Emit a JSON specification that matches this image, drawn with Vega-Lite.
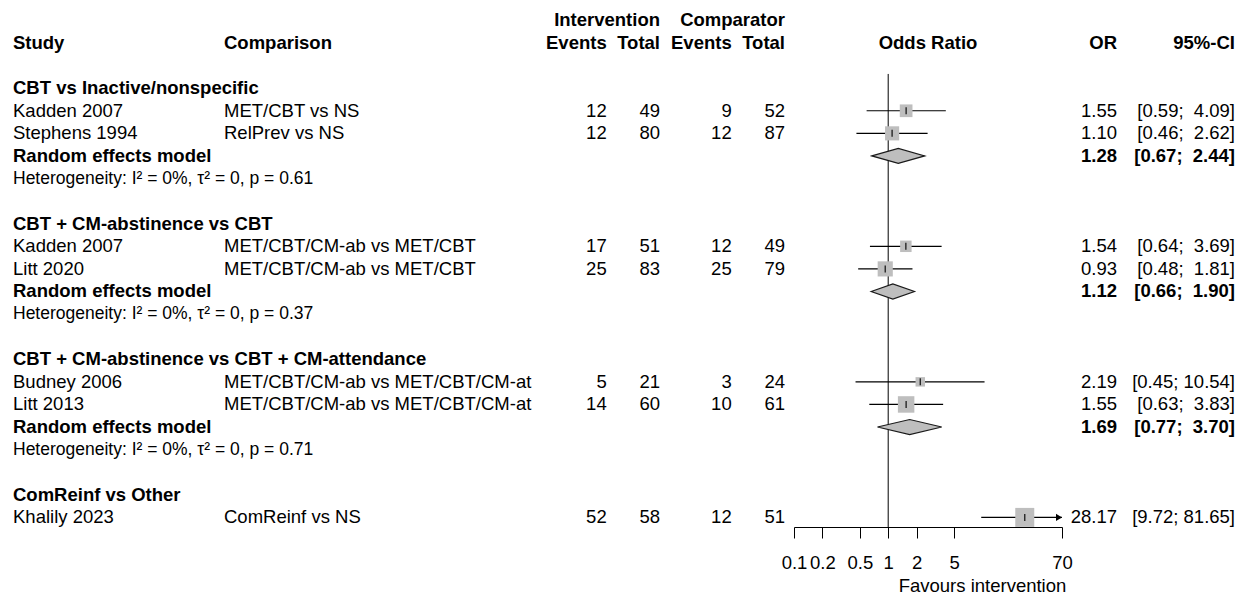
{
  "$schema": "https://vega.github.io/schema/vega-lite/v6.json",
  "width": 1245,
  "height": 527,
  "autosize": "none",
  "padding": {"left": 0, "top": 0, "right": 0, "bottom": 67},
  "background": "white",
  "config": {"view": {"stroke": null}, "font": "Liberation Sans", "text": {"font": "Liberation Sans"}},
  "datasets": {
    "cells": [
      {"r": 0, "c": 3, "t": "Intervention", "k": "head"},
      {"r": 0, "c": 5, "t": "Comparator", "k": "head"},
      {"r": 1, "c": 0, "t": "Study", "k": "head"},
      {"r": 1, "c": 1, "t": "Comparison", "k": "head"},
      {"r": 1, "c": 2, "t": "Events", "k": "head"},
      {"r": 1, "c": 3, "t": "Total", "k": "head"},
      {"r": 1, "c": 4, "t": "Events", "k": "head"},
      {"r": 1, "c": 5, "t": "Total", "k": "head"},
      {"r": 1, "c": 6, "t": "Odds Ratio", "k": "head"},
      {"r": 1, "c": 7, "t": "OR", "k": "head"},
      {"r": 1, "c": 8, "t": "95%-CI", "k": "head"},
      {"r": 3, "c": 0, "t": "CBT vs Inactive/nonspecific", "k": "group"},
      {"r": 4, "c": 0, "t": "Kadden 2007", "k": "study"},
      {"r": 4, "c": 1, "t": "MET/CBT vs NS", "k": "study"},
      {"r": 4, "c": 2, "t": "12", "k": "study"},
      {"r": 4, "c": 3, "t": "49", "k": "study"},
      {"r": 4, "c": 4, "t": "9", "k": "study"},
      {"r": 4, "c": 5, "t": "52", "k": "study"},
      {"r": 4, "c": 7, "t": "1.55", "k": "study"},
      {"r": 4, "c": 8, "t": "[0.59; \u00a04.09]", "k": "study"},
      {"r": 5, "c": 0, "t": "Stephens 1994", "k": "study"},
      {"r": 5, "c": 1, "t": "RelPrev vs NS", "k": "study"},
      {"r": 5, "c": 2, "t": "12", "k": "study"},
      {"r": 5, "c": 3, "t": "80", "k": "study"},
      {"r": 5, "c": 4, "t": "12", "k": "study"},
      {"r": 5, "c": 5, "t": "87", "k": "study"},
      {"r": 5, "c": 7, "t": "1.10", "k": "study"},
      {"r": 5, "c": 8, "t": "[0.46; \u00a02.62]", "k": "study"},
      {"r": 6, "c": 0, "t": "Random effects model", "k": "pooled"},
      {"r": 6, "c": 7, "t": "1.28", "k": "pooled"},
      {"r": 6, "c": 8, "t": "[0.67; \u00a02.44]", "k": "pooled"},
      {"r": 7, "c": 0, "t": "Heterogeneity: I² = 0%, τ² = 0, p = 0.61", "k": "het"},
      {"r": 9, "c": 0, "t": "CBT + CM-abstinence vs CBT", "k": "group"},
      {"r": 10, "c": 0, "t": "Kadden 2007", "k": "study"},
      {"r": 10, "c": 1, "t": "MET/CBT/CM-ab vs MET/CBT", "k": "study"},
      {"r": 10, "c": 2, "t": "17", "k": "study"},
      {"r": 10, "c": 3, "t": "51", "k": "study"},
      {"r": 10, "c": 4, "t": "12", "k": "study"},
      {"r": 10, "c": 5, "t": "49", "k": "study"},
      {"r": 10, "c": 7, "t": "1.54", "k": "study"},
      {"r": 10, "c": 8, "t": "[0.64; \u00a03.69]", "k": "study"},
      {"r": 11, "c": 0, "t": "Litt 2020", "k": "study"},
      {"r": 11, "c": 1, "t": "MET/CBT/CM-ab vs MET/CBT", "k": "study"},
      {"r": 11, "c": 2, "t": "25", "k": "study"},
      {"r": 11, "c": 3, "t": "83", "k": "study"},
      {"r": 11, "c": 4, "t": "25", "k": "study"},
      {"r": 11, "c": 5, "t": "79", "k": "study"},
      {"r": 11, "c": 7, "t": "0.93", "k": "study"},
      {"r": 11, "c": 8, "t": "[0.48; \u00a01.81]", "k": "study"},
      {"r": 12, "c": 0, "t": "Random effects model", "k": "pooled"},
      {"r": 12, "c": 7, "t": "1.12", "k": "pooled"},
      {"r": 12, "c": 8, "t": "[0.66; \u00a01.90]", "k": "pooled"},
      {"r": 13, "c": 0, "t": "Heterogeneity: I² = 0%, τ² = 0, p = 0.37", "k": "het"},
      {"r": 15, "c": 0, "t": "CBT + CM-abstinence vs CBT + CM-attendance", "k": "group"},
      {"r": 16, "c": 0, "t": "Budney 2006", "k": "study"},
      {"r": 16, "c": 1, "t": "MET/CBT/CM-ab vs MET/CBT/CM-at", "k": "study"},
      {"r": 16, "c": 2, "t": "5", "k": "study"},
      {"r": 16, "c": 3, "t": "21", "k": "study"},
      {"r": 16, "c": 4, "t": "3", "k": "study"},
      {"r": 16, "c": 5, "t": "24", "k": "study"},
      {"r": 16, "c": 7, "t": "2.19", "k": "study"},
      {"r": 16, "c": 8, "t": "[0.45; 10.54]", "k": "study"},
      {"r": 17, "c": 0, "t": "Litt 2013", "k": "study"},
      {"r": 17, "c": 1, "t": "MET/CBT/CM-ab vs MET/CBT/CM-at", "k": "study"},
      {"r": 17, "c": 2, "t": "14", "k": "study"},
      {"r": 17, "c": 3, "t": "60", "k": "study"},
      {"r": 17, "c": 4, "t": "10", "k": "study"},
      {"r": 17, "c": 5, "t": "61", "k": "study"},
      {"r": 17, "c": 7, "t": "1.55", "k": "study"},
      {"r": 17, "c": 8, "t": "[0.63; \u00a03.83]", "k": "study"},
      {"r": 18, "c": 0, "t": "Random effects model", "k": "pooled"},
      {"r": 18, "c": 7, "t": "1.69", "k": "pooled"},
      {"r": 18, "c": 8, "t": "[0.77; \u00a03.70]", "k": "pooled"},
      {"r": 19, "c": 0, "t": "Heterogeneity: I² = 0%, τ² = 0, p = 0.71", "k": "het"},
      {"r": 21, "c": 0, "t": "ComReinf vs Other", "k": "group"},
      {"r": 22, "c": 0, "t": "Khalily 2023", "k": "study"},
      {"r": 22, "c": 1, "t": "ComReinf vs NS", "k": "study"},
      {"r": 22, "c": 2, "t": "52", "k": "study"},
      {"r": 22, "c": 3, "t": "58", "k": "study"},
      {"r": 22, "c": 4, "t": "12", "k": "study"},
      {"r": 22, "c": 5, "t": "51", "k": "study"},
      {"r": 22, "c": 7, "t": "28.17", "k": "study"},
      {"r": 22, "c": 8, "t": "[9.72; 81.65]", "k": "study"}
    ],
    "studies": [
      {"r": 4, "or": 1.55, "lo": 0.59, "hi": 4.09, "wt": 44.7},
      {"r": 5, "or": 1.10, "lo": 0.46, "hi": 2.62, "wt": 55.3},
      {"r": 10, "or": 1.54, "lo": 0.64, "hi": 3.69, "wt": 36.4},
      {"r": 11, "or": 0.93, "lo": 0.48, "hi": 1.81, "wt": 63.6},
      {"r": 16, "or": 2.19, "lo": 0.45, "hi": 10.54, "wt": 24.7},
      {"r": 17, "or": 1.55, "lo": 0.63, "hi": 3.83, "wt": 75.3},
      {"r": 22, "or": 28.17, "lo": 9.72, "hi": 81.65, "wt": 100}
    ],
    "pooled": [
      {"r": 6, "or": 1.28, "lo": 0.67, "hi": 2.44},
      {"r": 12, "or": 1.12, "lo": 0.66, "hi": 1.90},
      {"r": 18, "or": 1.69, "lo": 0.77, "hi": 3.70}
    ]
  },
  "resolve": {"scale": {"x": "independent"}, "axis": {"x": "independent"}},
  "layer": [
    {
      "data": {"name": "studies"},
      "mark": {"type": "rule", "color": "black", "strokeWidth": 1.2},
      "encoding": {
        "x": {"field": "lo", "type": "quantitative",
              "scale": {"type": "log", "domain": [0.1, 70], "range": [794, 1062], "clamp": true, "nice": false},
              "axis": {"orient": "bottom", "values": [0.1, 0.2, 0.5, 1, 2, 5, 70], "format": "~g",
                       "labelOverlap": false, "labelFlush": false, "grid": false,
                       "domainColor": "black", "domainWidth": 1, "tickColor": "black", "tickWidth": 1, "tickSize": 11,
                       "labelFont": "Liberation Sans", "labelFontSize": 18.5, "labelColor": "black", "labelPadding": 15,
                       "title": "Favours intervention", "titleFont": "Liberation Sans", "titleFontSize": 18.5,
                       "titleFontWeight": "normal", "titleColor": "black", "titleX": 982, "titleY": 64,
                       "titleAlign": "center", "titleBaseline": "alphabetic"}},
        "x2": {"field": "hi"},
        "y": {"field": "r", "type": "quantitative", "axis": null,
              "scale": {"domain": [0, 22], "range": [20.4, 517.4], "nice": false, "zero": false}}
      }
    },
    {
      "data": {"values": [{}]},
      "mark": {"type": "rule", "color": "black", "strokeWidth": 1},
      "encoding": {
        "x": {"datum": 1, "type": "quantitative", "axis": null,
              "scale": {"type": "log", "domain": [0.1, 70], "range": [794, 1062], "clamp": true, "nice": false}},
        "y": {"datum": 2.37, "type": "quantitative", "axis": null,
              "scale": {"domain": [0, 22], "range": [20.4, 517.4], "nice": false, "zero": false}},
        "y2": {"datum": 22.43}
      }
    },
    {
      "data": {"name": "studies"},
      "mark": {"type": "square", "filled": true, "color": "#BEBEBE", "opacity": 1},
      "encoding": {
        "x": {"field": "or", "type": "quantitative", "axis": null,
              "scale": {"type": "log", "domain": [0.1, 70], "range": [794, 1062], "clamp": true, "nice": false}},
        "y": {"field": "r", "type": "quantitative", "axis": null,
              "scale": {"domain": [0, 22], "range": [20.4, 517.4], "nice": false, "zero": false}},
        "size": {"field": "wt", "type": "quantitative", "legend": null,
                 "scale": {"type": "linear", "domain": [0, 100], "range": [0, 361], "zero": true}}
      }
    },
    {
      "data": {"name": "studies"},
      "mark": {"type": "point", "shape": "M0,-1L0,1", "filled": false, "stroke": "#1a1a1a", "strokeWidth": 1.3, "size": 49, "opacity": 1},
      "encoding": {
        "x": {"field": "or", "type": "quantitative", "axis": null,
              "scale": {"type": "log", "domain": [0.1, 70], "range": [794, 1062], "clamp": true, "nice": false}},
        "y": {"field": "r", "type": "quantitative", "axis": null,
              "scale": {"domain": [0, 22], "range": [20.4, 517.4], "nice": false, "zero": false}}
      }
    },
    {
      "data": {"name": "studies"},
      "transform": [{"filter": "datum.hi > 70"}],
      "mark": {"type": "point", "shape": "M-1,-0.6L0,0L-1,0.6Z", "filled": true, "fill": "black", "strokeWidth": 0, "size": 144, "opacity": 1},
      "encoding": {
        "x": {"field": "hi", "type": "quantitative", "axis": null,
              "scale": {"type": "log", "domain": [0.1, 70], "range": [794, 1062], "clamp": true, "nice": false}},
        "y": {"field": "r", "type": "quantitative", "axis": null,
              "scale": {"domain": [0, 22], "range": [20.4, 517.4], "nice": false, "zero": false}}
      }
    },
    {
      "data": {"name": "pooled"},
      "transform": [
        {"fold": ["lo", "or", "hi"], "as": ["k", "v"]},
        {"calculate": "datum.k == 'or' ? datum.r - 0.332 : datum.r", "as": "top"},
        {"calculate": "datum.k == 'or' ? datum.r + 0.332 : datum.r", "as": "bot"}
      ],
      "mark": {"type": "area", "fill": "#BEBEBE", "stroke": "#1a1a1a", "strokeWidth": 1.2, "opacity": 1, "interpolate": "linear"},
      "encoding": {
        "x": {"field": "v", "type": "quantitative", "axis": null,
              "scale": {"type": "log", "domain": [0.1, 70], "range": [794, 1062], "clamp": true, "nice": false}},
        "y": {"field": "top", "type": "quantitative", "axis": null,
              "scale": {"domain": [0, 22], "range": [20.4, 517.4], "nice": false, "zero": false}},
        "y2": {"field": "bot"},
        "detail": {"field": "r", "type": "nominal"}
      }
    },
    {
      "data": {"name": "cells"},
      "transform": [{"filter": "datum.c <= 1 && datum.k == 'study'"}],
      "mark": {"type": "text", "align": "left", "baseline": "middle", "fontSize": 18.5, "color": "black"},
      "encoding": {
        "x": {"field": "c", "type": "quantitative", "axis": null,
              "scale": {"domain": [0, 1, 2, 3, 4, 5, 6, 7, 8], "range": [13, 224, 606.7, 660, 731.7, 785, 928, 1117, 1235], "nice": false, "zero": false}},
        "y": {"field": "r", "type": "quantitative", "axis": null,
              "scale": {"domain": [0, 22], "range": [20.4, 517.4], "nice": false, "zero": false}},
        "text": {"field": "t", "type": "nominal"}
      }
    },
    {
      "data": {"name": "cells"},
      "transform": [{"filter": "datum.k == 'het'"}],
      "mark": {"type": "text", "align": "left", "baseline": "middle", "fontSize": 17.5, "color": "black"},
      "encoding": {
        "x": {"field": "c", "type": "quantitative", "axis": null,
              "scale": {"domain": [0, 1, 2, 3, 4, 5, 6, 7, 8], "range": [13, 224, 606.7, 660, 731.7, 785, 928, 1117, 1235], "nice": false, "zero": false}},
        "y": {"field": "r", "type": "quantitative", "axis": null,
              "scale": {"domain": [0, 22], "range": [20.4, 517.4], "nice": false, "zero": false}},
        "text": {"field": "t", "type": "nominal"}
      }
    },
    {
      "data": {"name": "cells"},
      "transform": [{"filter": "datum.c <= 1 && datum.k != 'study' && datum.k != 'het'"}],
      "mark": {"type": "text", "align": "left", "baseline": "middle", "fontSize": 18.5, "fontWeight": "bold", "color": "black"},
      "encoding": {
        "x": {"field": "c", "type": "quantitative", "axis": null,
              "scale": {"domain": [0, 1, 2, 3, 4, 5, 6, 7, 8], "range": [13, 224, 606.7, 660, 731.7, 785, 928, 1117, 1235], "nice": false, "zero": false}},
        "y": {"field": "r", "type": "quantitative", "axis": null,
              "scale": {"domain": [0, 22], "range": [20.4, 517.4], "nice": false, "zero": false}},
        "text": {"field": "t", "type": "nominal"}
      }
    },
    {
      "data": {"name": "cells"},
      "transform": [{"filter": "datum.c >= 2 && datum.c != 6 && datum.k == 'study'"}],
      "mark": {"type": "text", "align": "right", "baseline": "middle", "fontSize": 18.5, "color": "black"},
      "encoding": {
        "x": {"field": "c", "type": "quantitative", "axis": null,
              "scale": {"domain": [0, 1, 2, 3, 4, 5, 6, 7, 8], "range": [13, 224, 606.7, 660, 731.7, 785, 928, 1117, 1235], "nice": false, "zero": false}},
        "y": {"field": "r", "type": "quantitative", "axis": null,
              "scale": {"domain": [0, 22], "range": [20.4, 517.4], "nice": false, "zero": false}},
        "text": {"field": "t", "type": "nominal"}
      }
    },
    {
      "data": {"name": "cells"},
      "transform": [{"filter": "datum.c >= 2 && datum.c != 6 && datum.k != 'study'"}],
      "mark": {"type": "text", "align": "right", "baseline": "middle", "fontSize": 18.5, "fontWeight": "bold", "color": "black"},
      "encoding": {
        "x": {"field": "c", "type": "quantitative", "axis": null,
              "scale": {"domain": [0, 1, 2, 3, 4, 5, 6, 7, 8], "range": [13, 224, 606.7, 660, 731.7, 785, 928, 1117, 1235], "nice": false, "zero": false}},
        "y": {"field": "r", "type": "quantitative", "axis": null,
              "scale": {"domain": [0, 22], "range": [20.4, 517.4], "nice": false, "zero": false}},
        "text": {"field": "t", "type": "nominal"}
      }
    },
    {
      "data": {"name": "cells"},
      "transform": [{"filter": "datum.c == 6"}],
      "mark": {"type": "text", "align": "center", "baseline": "middle", "fontSize": 18.5, "fontWeight": "bold", "color": "black"},
      "encoding": {
        "x": {"field": "c", "type": "quantitative", "axis": null,
              "scale": {"domain": [0, 1, 2, 3, 4, 5, 6, 7, 8], "range": [13, 224, 606.7, 660, 731.7, 785, 928, 1117, 1235], "nice": false, "zero": false}},
        "y": {"field": "r", "type": "quantitative", "axis": null,
              "scale": {"domain": [0, 22], "range": [20.4, 517.4], "nice": false, "zero": false}},
        "text": {"field": "t", "type": "nominal"}
      }
    }
  ]
}
